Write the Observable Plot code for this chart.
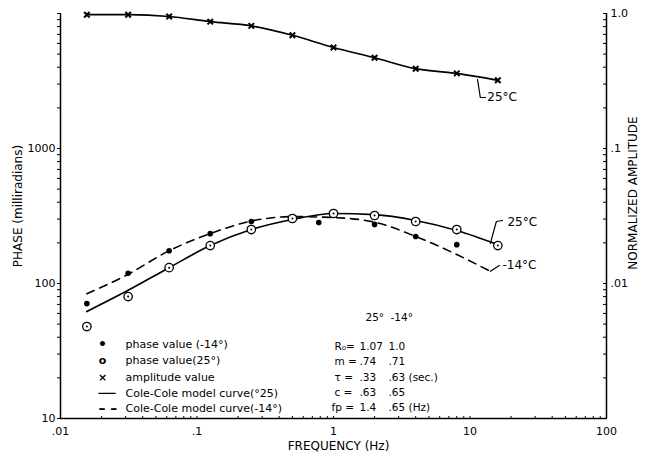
<!DOCTYPE html>
<html><head><meta charset="utf-8">
<script src="https://cdn.jsdelivr.net/npm/d3@7"></script>
<script src="https://cdn.jsdelivr.net/npm/@observablehq/plot@0.6"></script>
<style>body{margin:0;background:#fff} svg{display:block}</style>
</head><body><div id="chart"></div>
<script>
// ---- data ----
const frequency = [0.0156, 0.0313, 0.0625, 0.125, 0.25, 0.5, 1, 2, 4, 8, 16];
const amplitude = [0.98, 0.98, 0.95, 0.87, 0.81, 0.69, 0.56, 0.47, 0.39, 0.36, 0.32];
const phase25 = [48, 80, 131, 191, 251, 303, 330, 319, 288, 251, 191];
const curve25 = [62, 89, 131, 191, 251, 298, 330, 324, 293, 247, 194];
const freq14 = [0.0156, 0.0313, 0.0625, 0.125, 0.25, 0.78, 2, 4, 8];
const phase14 = [71, 119, 175, 234, 288, 283, 274, 223, 194];
const curveFreq14 = [0.0156, 0.0313, 0.0625, 0.125, 0.25, 0.5, 1, 2, 4, 8, 14.1];
const curve14 = [84, 117, 175, 234, 290, 313, 308, 285, 223, 164, 123];

const xTicks = [0.01, 0.1, 1, 10, 100];
const xTickLabels = [".01", ".1", "1", "10", "100"];
const yTicks = [10, 100, 1000];
const yTickLabels = ["10", "100", "1000"];
const ampTicks = [1.0, 0.1, 0.01];
const ampTickLabels = ["1.0", ".1", ".01"];

const legendSymbols = ["•", "o", "×", "──", "– –"];
const legendLabels = ["phase value (-14°)", "phase value(25°)", "amplitude value",
  "Cole-Cole model curve(°25)", "Cole-Cole model curve(-14°)"];
const tableHeader = ["25°", "-14°"];
const paramNames = ["R₀=", "m =", "τ =", "c =", "fp ="];
const param25 = ["1.07", ".74", ".33", ".63", "1.4"];
const param14 = ["1.0", ".71", ".63 (sec.)", ".65", ".65 (Hz)"];

// annotation leaders (frequency, phase)
const ampLeaderF = [11.35, 11.9, 13.0];
const ampLeaderV = [3245, 2387, 2387];
const ph25LeaderF = [17.3, 15.6, 14.1];
const ph25LeaderV = [293, 288, 198];
const ph14LeaderF = [14.1, 16.4];
const ph14LeaderV = [123, 136];
const annotations = [
  {f: 13.4, v: 2387, text: "25°C"},
  {f: 18.8, v: 283, text: "25°C"},
  {f: 17.3, v: 136, text: "-14°C"}
];

// ---- build tables ----
const ampPts = frequency.map((f, i) => ({f, v: amplitude[i] * 10000}));
const p25 = frequency.map((f, i) => ({f, v: phase25[i]}));
const c25 = frequency.map((f, i) => ({f, v: curve25[i]}));
const p14 = freq14.map((f, i) => ({f, v: phase14[i]}));
const c14 = curveFreq14.map((f, i) => ({f, v: curve14[i]}));
const lead = (F, V) => F.map((f, i) => ({f, v: V[i]}));

const minorX = d3.scaleLog().domain([0.01, 100]).ticks();
const minorY = d3.scaleLog().domain([10, 10000]).ticks();
const xLab = new Map(xTicks.map((t, i) => [t, xTickLabels[i]]));
const yLab = new Map(yTicks.map((t, i) => [t, yTickLabels[i]]));
const ampPhase = ampTicks.map(a => a * 10000);
const aLab = new Map(ampPhase.map((t, i) => [t, ampTickLabels[i]]));

const FS = 11;
const txt = (s, dx, dy, o = {}) => Plot.text([s], {frameAnchor: "bottom-left", dx, dy,
  textAnchor: "start", lineAnchor: "middle", fontSize: FS, fill: "black", ...o});

const legendDy = [-74, -58, -41, -25, -10];
const tableDy = [-72, -57, -41, -26, -11];

const marks = [
  // frame lines
  Plot.ruleX([0.01, 100], {strokeWidth: 1.5}),
  Plot.ruleY([10], {strokeWidth: 1.5}),
  // left axis (outward ticks + labels)
  Plot.axisY({ticks: minorY, tickSize: 3, tickPadding: 2, fontSize: FS,
    tickFormat: d => yLab.get(d) ?? ""}),
  // right axis: inward ticks, labels outside
  Plot.axisY({anchor: "left", frameAnchor: "right", ticks: minorY, tickSize: 3, tickFormat: () => ""}),
  Plot.axisY({anchor: "right", ticks: ampPhase, tickSize: 0, tickPadding: 4, fontSize: FS,
    tickFormat: d => aLab.get(d)}),
  // bottom axis: inward ticks, labels below
  Plot.axisX({anchor: "top", frameAnchor: "bottom", ticks: minorX, tickSize: 3, tickFormat: () => ""}),
  Plot.axisX({anchor: "bottom", ticks: xTicks, tickSize: 0, tickPadding: 9, fontSize: FS,
    tickFormat: d => xLab.get(d)}),

  // model curves
  Plot.line(ampPts, {x: "f", y: "v", curve: "monotone-x", strokeWidth: 1.7}),
  Plot.line(c25, {x: "f", y: "v", curve: "monotone-x", strokeWidth: 1.7}),
  Plot.line(c14, {x: "f", y: "v", curve: "monotone-x", strokeWidth: 1.6, strokeDasharray: "8,6"}),

  // points
  Plot.dot(ampPts, {x: "f", y: "v", symbol: "times", r: 2.6, stroke: "black", strokeWidth: 2}),
  Plot.dot(p14, {x: "f", y: "v", r: 2.8, fill: "black"}),
  Plot.dot(p25, {x: "f", y: "v", r: 4.2, fill: "white", stroke: "black", strokeWidth: 1.3}),
  Plot.dot(p25, {x: "f", y: "v", r: 1, fill: "black"}),

  // annotation leaders and labels
  Plot.line(lead(ampLeaderF, ampLeaderV), {x: "f", y: "v", strokeWidth: 1.2}),
  Plot.line(lead(ph25LeaderF, ph25LeaderV), {x: "f", y: "v", strokeWidth: 1.2}),
  Plot.line(lead(ph14LeaderF, ph14LeaderV), {x: "f", y: "v", strokeWidth: 1.2}),
  Plot.text(annotations, {x: "f", y: "v", text: "text", textAnchor: "start", fontSize: FS + 1, fill: "black"}),

  // axis titles
  Plot.text(["PHASE (milliradians)"], {frameAnchor: "left", dx: -42, dy: -10, rotate: -90,
    textAnchor: "middle", fontSize: 12, letterSpacing: "0.6px", fill: "black"}),
  Plot.text(["NORMALIZED AMPLITUDE"], {frameAnchor: "right", dx: 27, dy: -23, rotate: -90,
    textAnchor: "middle", fontSize: 12, letterSpacing: "0.5px", fill: "black"}),
  Plot.text(["FREQUENCY (Hz)"], {frameAnchor: "bottom", dx: 5, dy: 31,
    textAnchor: "middle", fontSize: 12, letterSpacing: "1px", fill: "black"}),
];

// legend
legendLabels.forEach((s, i) => {
  const sym = legendSymbols[i];
  const isLine = i >= 3;
  marks.push(txt(sym, isLine ? 38 : 42, legendDy[i],
    {textAnchor: isLine ? "start" : "middle", fontSize: isLine ? 14 : (i === 0 ? 14 : FS), fontWeight: "bold"}));
  marks.push(txt(s, 65, legendDy[i]));
});
// parameter table
marks.push(txt(tableHeader[0], 305, -101, {fontSize: 10.5}));
marks.push(txt(tableHeader[1], 330, -101, {fontSize: 10.5}));
paramNames.forEach((s, i) => {
  marks.push(txt(s, i === 4 ? 271 : 274, tableDy[i], {fontSize: 10.5}));
  marks.push(txt(param25[i], 299, tableDy[i], {fontSize: 10.5}));
  marks.push(txt(param14[i], 328, tableDy[i], {fontSize: 10.5}));
});

const chart = Plot.plot({
  width: 659, height: 457,
  marginLeft: 60, marginRight: 53, marginTop: 13, marginBottom: 39,
  style: {fontFamily: "DejaVu Sans, sans-serif", fontSize: "11px", background: "white", color: "black"},
  x: {type: "log", domain: [0.01, 100], label: null},
  y: {type: "log", domain: [10, 10000], label: null},
  marks
});
document.getElementById("chart").append(chart);
</script>
</body></html>
